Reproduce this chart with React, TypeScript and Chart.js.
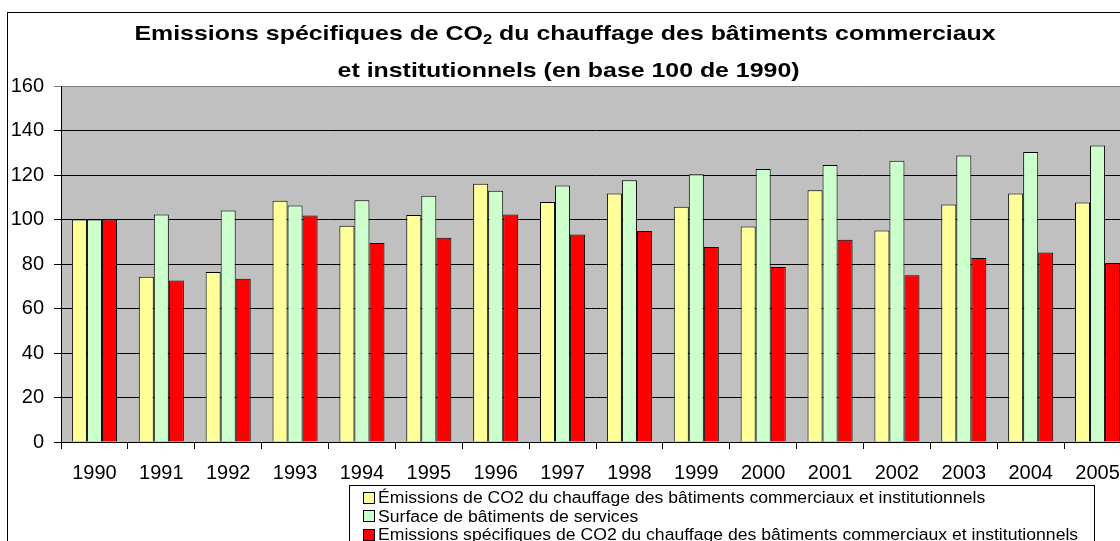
import React, { useEffect, useRef } from 'react';
import { Chart, registerables } from 'chart.js';

Chart.register(...registerables);

const years = ['1990', '1991', '1992', '1993', '1994', '1995', '1996', '1997', '1998', '1999', '2000', '2001', '2002', '2003', '2004', '2005'];
const emissions = [100, 74.3, 76.4, 108.4, 97.2, 102.0, 116.1, 107.9, 111.7, 105.7, 96.8, 113.1, 95.1, 106.7, 111.7, 107.6];
const surface = [100, 102.2, 104.0, 106.3, 108.6, 110.7, 112.9, 115.3, 117.6, 120.3, 122.7, 124.5, 126.4, 128.8, 130.3, 133.3];
const specific = [100, 72.6, 73.4, 101.8, 89.4, 91.8, 102.3, 93.3, 94.8, 87.6, 78.7, 90.9, 74.9, 82.7, 85.2, 80.4];

const seriesLabels = [
  'Émissions de CO2 du chauffage des bâtiments commerciaux et institutionnels',
  'Surface de bâtiments de services',
  'Emissions spécifiques de CO2 du chauffage des bâtiments commerciaux et institutionnels',
];
const seriesColors = ['#ffff99', '#ccffcc', '#ff0000'];

const titleLine1 = ['Emissions spécifiques de CO', '2', ' du chauffage des bâtiments commerciaux'];
const titleLine2 = 'et institutionnels (en base 100 de 1990)';

const FONT = '"Liberation Sans", Arial, Helvetica, sans-serif';

const W = 1150;
const H = 541;

const framePlugin = {
  id: 'frameBg',
  beforeDraw(chart: any) {
    const { ctx, chartArea } = chart;
    ctx.save();
    ctx.fillStyle = '#ffffff';
    ctx.fillRect(0, 0, chart.width, chart.height);
    ctx.strokeStyle = '#000';
    ctx.lineWidth = 1;
    ctx.strokeRect(7.5, 12.5, 1200, 700);
    ctx.fillStyle = '#c0c0c0';
    ctx.fillRect(chartArea.left, chartArea.top, chartArea.right - chartArea.left, chartArea.bottom - chartArea.top);
    ctx.restore();
  },
};

const titlePlugin = {
  id: 'titleDraw',
  afterDraw(chart: any) {
    const ctx = chart.ctx;
    ctx.save();
    ctx.fillStyle = '#000';
    ctx.textBaseline = 'alphabetic';
    ctx.textAlign = 'left';
    const big = `bold 21px ${FONT}`;
    const small = `bold 14px ${FONT}`;
    const cx = 565;
    const sx = 1.185;
    ctx.translate(cx, 0);
    ctx.scale(sx, 1);
    ctx.font = big;
    const wa = ctx.measureText(titleLine1[0]).width;
    const wc = ctx.measureText(titleLine1[2]).width;
    ctx.font = small;
    const wb = ctx.measureText(titleLine1[1]).width;
    let x = -(wa + wb + wc) / 2;
    ctx.font = big;
    ctx.fillText(titleLine1[0], x, 40);
    x += wa;
    ctx.font = small;
    ctx.fillText(titleLine1[1], x, 44);
    x += wb;
    ctx.font = big;
    ctx.fillText(titleLine1[2], x, 40);
    ctx.textAlign = 'center';
    ctx.fillText(titleLine2, 3, 77);
    ctx.restore();
  },
};

const legendPlugin = {
  id: 'legendBox',
  afterDraw(chart: any) {
    const ctx = chart.ctx;
    ctx.save();
    ctx.fillStyle = '#fff';
    ctx.fillRect(349.5, 485.5, 745, 100);
    ctx.strokeStyle = '#000';
    ctx.lineWidth = 1;
    ctx.strokeRect(349.5, 485.5, 745, 100);
    chart.data.datasets.forEach((ds: any, i: number) => {
      const cy = 497.5 + i * 18.7;
      ctx.fillStyle = ds.backgroundColor;
      ctx.fillRect(363, Math.round(cy - 6), 12, 12);
      ctx.strokeStyle = '#000';
      ctx.strokeRect(363.5, Math.round(cy - 6) + 0.5, 11, 11);
      ctx.save();
      ctx.translate(378, cy + 1);
      ctx.scale(1.1, 1);
      ctx.font = `16px ${FONT}`;
      ctx.textBaseline = 'middle';
      ctx.textAlign = 'left';
      ctx.fillStyle = '#000';
      ctx.fillText(ds.label, 0, 0);
      ctx.restore();
    });
    ctx.restore();
  },
};

export default function App() {
  const ref = useRef<HTMLCanvasElement | null>(null);
  useEffect(() => {
    if (!ref.current) return;
    const chart = new Chart(ref.current, {
      type: 'bar',
      data: {
        labels: years,
        datasets: [emissions, surface, specific].map((d, i) => ({
          label: seriesLabels[i],
          data: d,
          backgroundColor: seriesColors[i],
          borderColor: '#000',
          borderWidth: 1,
          categoryPercentage: 0.674,
          barPercentage: 1,
        })),
      },
      options: {
        animation: false,
        responsive: false,
        devicePixelRatio: 1,
        layout: { padding: { top: 86, right: 19, left: 0, bottom: 0 } },
        plugins: {
          legend: { display: false },
          title: { display: false },
          tooltip: { enabled: false },
        },
        scales: {
          x: {
            grid: { display: true, drawOnChartArea: false, drawTicks: true, tickLength: 7, color: '#000', offset: true },
            border: { color: '#000', width: 1 },
            ticks: { color: '#000', font: { size: 20, family: FONT }, padding: 12, maxRotation: 0, autoSkip: false },
            afterFit: (s: any) => { s.height = H - 442; },
          },
          y: {
            min: 0,
            max: 160,
            ticks: { stepSize: 20, color: '#000', font: { size: 20, family: FONT }, padding: 10 },
            grid: {
              color: (c: any) => (c.tick && c.tick.value === 160 ? '#808080' : '#000'),
              tickLength: 7,
              drawTicks: true,
            },
            border: { color: '#000', width: 1 },
            afterFit: (s: any) => { s.width = 61; },
          },
        },
      },
      plugins: [framePlugin, titlePlugin, legendPlugin],
    });
    return () => chart.destroy();
  }, []);
  return (
    <div style={{ position: 'fixed', left: 0, top: 0, width: 1120, height: 541, overflow: 'hidden', background: '#fff' }}>
      <canvas ref={ref} width={W} height={H} style={{ display: 'block', width: W, height: H }} />
    </div>
  );
}
